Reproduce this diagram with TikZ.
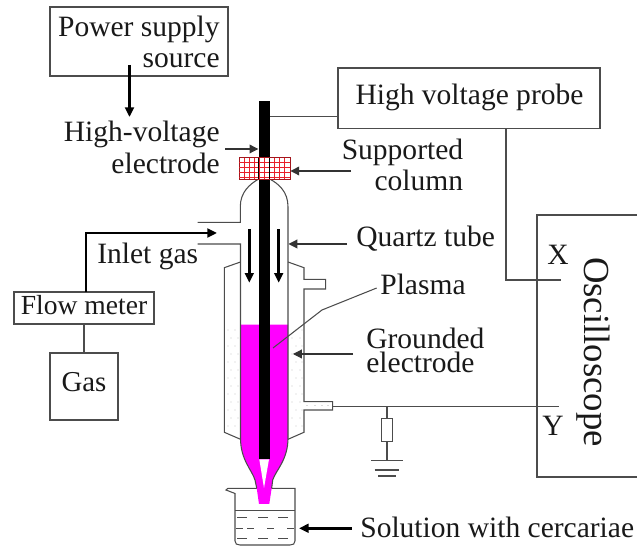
\documentclass[tikz,border=0pt]{standalone}
\usepackage{fontspec}
\setmainfont{Liberation Serif}
\usetikzlibrary{arrows.meta}
\definecolor{plasmacol}{HTML}{FF00FF}
\definecolor{gridcol}{HTML}{E8202A}
\tikzset{
  box/.style={draw=black!70, line width=.7pt, inner sep=0pt, fill=none},
  lbl/.style={inner sep=0pt, text=black!90, font=\fontsize{16.8pt}{17.6pt}\selectfont},
  part/.style={draw=black!70, line width=.6pt},
  wire/.style={draw=black!70, line width=.7pt},
  thinarrow/.style={draw=black!80, line width=.6pt, -{Triangle[length=5pt,width=5pt]}},
  thickarrow/.style={draw=black, line width=1.5pt, -{Triangle[length=5.5pt,width=5pt]}},
}
\begin{document}
\begin{tikzpicture}[x=0.02cm, y=-0.02cm]
      \useasboundingbox (0,0) rectangle (637,546);

      \node[box, minimum width=3.56cm, minimum height=1.38cm] (supply) at (139,41.5) { };
      \node[box, minimum width=5.24cm, minimum height=1.21cm] (probe) at (469,98.3) { };
      \node[box, minimum width=2.06cm, minimum height=5.24cm] (scope) at (588.5,346) { };
      \node[box, minimum width=2.80cm, minimum height=.64cm] (flow) at (84,308) { };
      \node[box, minimum width=1.36cm, minimum height=1.34cm] (gas) at (84,386.5) { };

      \draw[part] (295,488.3) -- (228,488.3) -- (226,490) -- (235,493.5) -- (235,541)
        .. controls (235,544) and (237,545) .. (240,545) -- (290,545)
        .. controls (293,545) and (295,544) .. (295,541) -- cycle;
      \draw[part] (235,510.7) -- (295,510.7);
      \foreach \dashy in {517.7,538.3} {
        \foreach \dashx in {237,258,278}
          \draw[part] (\dashx,\dashy) -- (\dashx+10,\dashy);
      }
      \foreach \dashx in {236,247,267,287}
        \draw[part] (\dashx,528.3) -- (\dashx+7,528.3);

      \fill[plasmacol] (240.7,324.7) -- (288,324.7) -- (288,438)
        .. controls (288,460) and (276,470) .. (272.7,480) -- (271.7,488) -- (269.3,504) -- (259,504)
        -- (256.7,488) -- (255,480) .. controls (252,470) and (240.7,460) .. (240.7,438) -- cycle;
      \fill[white] (259.3,459.3) -- (269,459.3) -- (264,488) -- cycle;

      \draw[part] (197.7,222.3) -- (240.3,222.3) -- (240.3,206.7) .. controls (240.3,192) and (250,184) .. (258.7,179);
      \draw[part] (269.7,179) .. controls (279,184) and (288,192) .. (288,206.7) -- (288,438)
        .. controls (288,460) and (276,470) .. (272.7,480) -- (271.7,488);
      \draw[part] (197.7,244) -- (240.5,244) -- (240.5,438)
        .. controls (240.5,460) and (252,470) .. (255,480) -- (256.7,488);

      \draw[part] (240.5,262) -- (224.3,267.7) -- (224.3,432.3) -- (240.5,439.3);
      \draw[part] (288,262) -- (304,267.7) -- (304,279.3) -- (325.7,279.3) -- (325.7,289) -- (304,289)
        -- (304,401.7) -- (332.7,401.7) -- (332.7,410) -- (304,410) -- (304,432.3) -- (288,439.3);

      \foreach \row in {0,2,...,12} {
        \foreach \dotx in {228,235,296,302}
          \fill[black!60] (\dotx,330+8*\row) circle[radius=.45];
      }
      \foreach \row in {1,3,...,11} {
        \foreach \dotx in {231,238,292,300}
          \fill[black!60] (\dotx,330+8*\row) circle[radius=.45];
      }
      \foreach \dotx in {307,315,322,328}
        \fill[black!60] (\dotx,405.5) circle[radius=.45];

      \node[fill=black, inner sep=0pt, minimum width=.22cm, minimum height=7.16cm] (electrode) at (264.2,280) { };

      \node[draw=gridcol!70!black, fill=white, line width=.5pt, inner sep=0pt, minimum width=1.02cm, minimum height=.43cm] (column) at (264.5,168.3) { };
      \foreach \gridx in {244,249,...,288}
        \draw[gridcol, line width=.5pt] (\gridx,157.7) -- (\gridx,179);
      \foreach \gridy in {162,167,...,178}
        \draw[gridcol, line width=.5pt] (239,\gridy) -- (290,\gridy);
      \draw[black, line width=.5pt] (258.7,157.7) -- (258.7,179);
      \draw[black, line width=.5pt] (269.7,157.7) -- (269.7,179);

      \node[lbl, align=right, anchor=east] (supplytext) at (220,42) {Power supply\\source};
      \node[lbl, align=right, anchor=east] (hvtext) at (220,147) {High-voltage\\[.7pt]electrode};
      \node[lbl, anchor=base] (probetext) at (469.5,105) {High voltage probe};
      \node[lbl, align=right, anchor=east] (columntext) at (463.5,165) {Supported\\column};
      \node[lbl, anchor=base west] (quartztext) at (356,247) {Quartz tube};
      \node[lbl, anchor=base west] (plasmatext) at (380,295) {Plasma};
      \node[lbl, align=left, anchor=west] (groundtext) at (366,350) {Grounded\\[-4pt]electrode};
      \node[lbl, anchor=base west] (inlettext) at (97,264) {Inlet gas};
      \node[lbl, anchor=base, font=\fontsize{15.7pt}{17pt}\selectfont] (flowtext) at (84,315) {Flow meter};
      \node[lbl, anchor=base, font=\fontsize{16.4pt}{17pt}\selectfont] (gastext) at (84,392) {Gas};
      \node[lbl, anchor=base west] (solutiontext) at (360,538) {Solution with cercariae};
      \node[lbl, anchor=base] (xtext) at (558,265) {X};
      \node[lbl, anchor=base] (ytext) at (553,436) {Y};
      \node[lbl, rotate=-90, anchor=center, font=\fontsize{20.9pt}{22pt}\selectfont] (scopetext) at (593,352) {Oscilloscope};

      \coordinate (supplyout) at (129.5,65);
      \coordinate (hvin) at (129.5,117);
      \coordinate (hvarrow) at (225,149);
      \coordinate (electrodein) at (258.3,149);
      \coordinate (probetap) at (270,116.7);
      \coordinate (probein) at (338,116.7);
      \coordinate (probeout) at (506,129);
      \coordinate (xin) at (560.7,280);
      \coordinate (columnarrow) at (351,171);
      \coordinate (quartzarrow) at (347,244);
      \coordinate (quartzin) at (288.5,244);
      \coordinate (plasmain) at (273,348);
      \coordinate (plasmabend) at (322,310);
      \coordinate (plasmaout) at (376.7,288);
      \coordinate (groundarrow) at (353,354);
      \coordinate (groundin) at (293,354);
      \coordinate (stub) at (332.7,406.7);
      \coordinate (yin) at (559,406.7);
      \coordinate (flowout) at (86,292);
      \coordinate (inlet) at (217,233);
      \coordinate (solutionarrow) at (351.7,528.3);
      \coordinate (beaker) at (299,528.3);
      \coordinate (leftflowtop) at (249.3,229.3);
      \coordinate (leftflowend) at (249.3,282.7);
      \coordinate (rightflowtop) at (278.7,229.3);
      \coordinate (rightflowend) at (278.7,282.7);

      \draw[thickarrow] (supplyout) -- (hvin);
      \draw[thinarrow] (hvarrow) -- (electrodein);
      \draw[wire] (probetap) -- (probein);
      \draw[wire] (probeout) |- (xin);
      \draw[thinarrow] (columnarrow) -- (column.east |- columnarrow);
      \draw[thinarrow] (quartzarrow) -- (quartzin);
      \draw[part] (plasmain) -- (plasmabend) -- (plasmaout);
      \draw[thinarrow] (groundarrow) -- (groundin);
      \draw[wire] (stub) -- (yin);
      \draw[wire] (flow.south) -- (gas.north);
      \draw[thickarrow] (flowout) |- (inlet);
      \draw[thickarrow] (solutionarrow) -- (beaker);
      \draw[thickarrow] (leftflowtop) -- (leftflowend);
      \draw[thickarrow] (rightflowtop) -- (rightflowend);

      \node[box, minimum width=.23cm, minimum height=.47cm] (resistor) at (387,430) { };
      \coordinate (groundtop) at (387,460.7);
      \coordinate (wiretap) at (387,406.7);
      \draw[wire] (wiretap) -- (resistor.north);
      \draw[wire] (resistor.south) -- (groundtop);
      \draw[wire] ([xshift=-.32cm]groundtop) -- ([xshift=.32cm]groundtop);
      \draw[wire] (374.7,470) -- (399,470);
      \draw[wire] (378,476) -- (396,476);
    \end{tikzpicture}
\end{document}
